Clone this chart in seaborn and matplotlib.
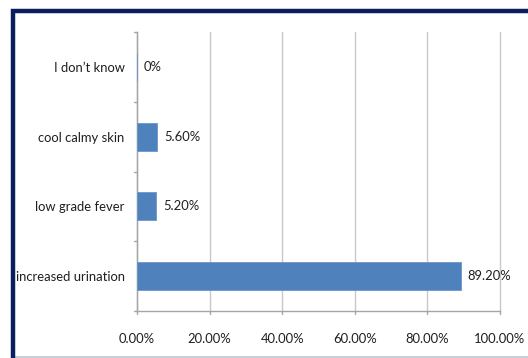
import matplotlib
matplotlib.use("Agg")
import matplotlib.pyplot as plt
import matplotlib.patches as mpatches
import seaborn as sns
import pandas as pd

# Survey responses, listed top to bottom
categories = ["I don\u2019t know", "cool calmy skin", "low grade fever", "increased urination"]
percentages = [0.0, 5.6, 5.2, 89.2]
value_labels = ["0%", "5.60%", "5.20%", "89.20%"]
x_ticks = [0, 20, 40, 60, 80, 100]
x_tick_labels = ["0.00%", "20.00%", "40.00%", "60.00%", "80.00%", "100.00%"]

df = pd.DataFrame({"category": categories, "percent": percentages})

sns.set_theme(style="white")
plt.rcParams["font.family"] = ["Lato", "DejaVu Sans"]

W, H, DPI = 528, 358, 100
FS = 9.4
TXT = "#1F1F1F"
fig = plt.figure(figsize=(W / DPI, H / DPI), dpi=DPI)
fig.patch.set_facecolor("white")

ax = fig.add_axes([137 / W, 1 - 311 / H, (500 - 137) / W, (311 - 32) / H])

sns.barplot(data=df, y="category", x="percent", order=categories,
            color="#4F81BD", saturation=1, width=0.4, orient="h",
            edgecolor="#6C96CB", linewidth=0.6, ax=ax, zorder=3)

ax.set_xlim(0, 100)
ax.set_ylim(len(categories) - 0.5, -0.5)
ax.set_xticks(x_ticks)
ax.set_xticklabels(x_tick_labels, fontsize=FS, color=TXT)
ax.set_yticks(range(len(categories)))
ax.set_yticklabels(categories, fontsize=FS, color=TXT)
ax.set_xlabel("")
ax.set_ylabel("")

# vertical gridlines (left unclipped so the 100% line shows fully)
ax.xaxis.grid(True, color="#C8C8C8", linewidth=1.0, zorder=0)
for gl in ax.get_xgridlines():
    gl.set_clip_on(False)
ax.yaxis.grid(False)
for side in ["top", "right"]:
    ax.spines[side].set_visible(False)
for side in ["left", "bottom"]:
    ax.spines[side].set_color("#A6A6A6")
    ax.spines[side].set_linewidth(1.0)

ax.tick_params(axis="y", length=0, pad=9)
ax.tick_params(axis="x", length=0, pad=16)

# small category-boundary ticks on the vertical axis
for b in [-0.5, 0.5, 1.5, 2.5, 3.5]:
    ax.plot([-0.9, 0], [b, b], color="#A6A6A6", linewidth=1.0, clip_on=False, zorder=4)
# small ticks below the horizontal axis
for t in x_ticks:
    ax.plot([t, t], [3.5, 3.55], color="#A6A6A6", linewidth=1.0, clip_on=False, zorder=4)

# value annotations next to each bar
for i, (v, lab) in enumerate(zip(percentages, value_labels)):
    ax.annotate(lab, xy=(v, i), xytext=(5, 0), textcoords="offset points",
                ha="left", va="center", fontsize=FS, color=TXT)

# navy frame around the chart area
frame = mpatches.Rectangle((13 / W, -0.2), 1.2, 1 - 10.5 / H + 0.2,
                           transform=fig.transFigure, fill=False,
                           edgecolor="#0A1F5E", linewidth=3.2, zorder=10)
fig.patches.append(frame)
fig.add_artist(plt.Line2D([15 / W, 1], [1 - 356.5 / H, 1 - 356.5 / H],
                          transform=fig.transFigure, color="#B9C7D6", linewidth=1.2))

fig.savefig("out.png", dpi=DPI, facecolor="white")
